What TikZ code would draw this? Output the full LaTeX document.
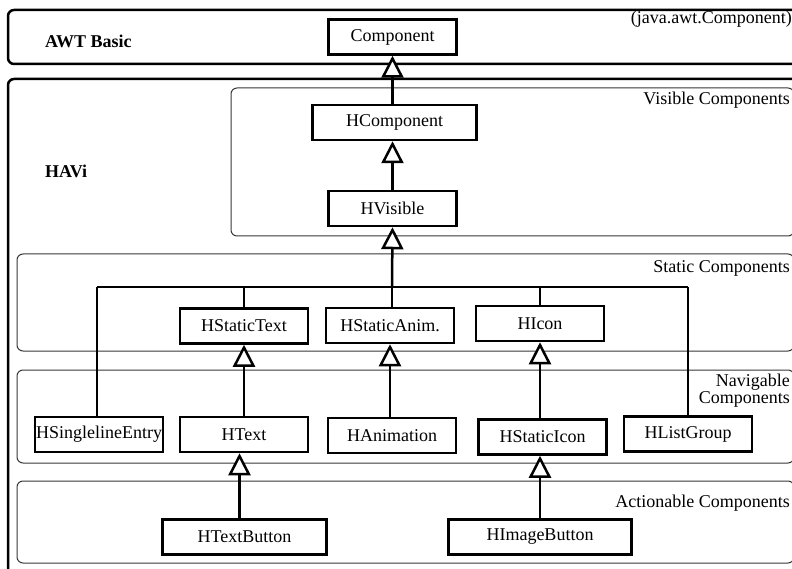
\documentclass[tikz,border=0pt]{standalone}
\usepackage{fontspec}
\setmainfont{Liberation Serif}
\usetikzlibrary{positioning, arrows.meta, calc}
\definecolor{RegionGrey}{RGB}{55, 55, 55}

\begin{document}
\begin{tikzpicture}[
    x=1pt, y=-1pt,
    % Global Styles
    cls/.style={
        rectangle,
        draw=black,
        line width=2.5pt,
        fill=white,
        align=center,
        inner xsep=1pt,
        minimum height=35pt,
        minimum width=128pt,
        font=\fontsize{18}{20}\selectfont
    },
    layer/.style={
        draw=RegionGrey,
        line width=1pt,
        rounded corners=6pt
    },
    package/.style={
        draw=black,
        line width=2.5pt,
        rounded corners=6pt
    },
    inherit/.style={
        -{Triangle[length=22pt, width=22pt, fill=white]},
        line width=2.5pt,
        draw=black
    },
    line/.style={
        line width=2.5pt,
        draw=black
    },
    layer_text/.style={
        anchor=east,
        align=right,
        inner sep=0pt,
        font=\fontsize{18}{14}\selectfont
    },
    package_text/.style={
        anchor=west,
        inner sep=0pt,
        font=\fontsize{18}{20}\selectfont\bfseries
    }
]
    \useasboundingbox (0,0) rectangle (792,569);
    \clip (0,0) rectangle (792,569);

    % --- Packages and Layers ---
    \draw[package] (8,10) rectangle (810,64);
    \draw[package] (8,79) rectangle (810,600);

    \draw[layer] (231,88) rectangle (794,236);
    \draw[layer] (17,254) rectangle (794,351);
    \draw[layer] (17,370) rectangle (794,463);
    \draw[layer] (17,481) rectangle (794,563);

    \node[package_text] (awt_label) at (45,41) {AWT Basic};
    \node[package_text] (havi_label) at (45,171) {HAVi};

    \node[layer_text] (awt_name) at (792,19) {(java.awt.Component)};
    \node[layer_text] (visible_label) at (790,100) {Visible Components};
    \node[layer_text] (static_label) at (790,268) {Static Components};
    \node[layer_text] (navigable_label) at (790,391) {Navigable\\Components};
    \node[layer_text] (actionable_label) at (790,503) {Actionable Components};

    % --- Placement of Nodes ---

    % Main column
    \node[cls] (component) at (392.5,37) {Component};
    \node[cls, minimum width=164pt] (hcomponent) at (394.5,122.5) {HComponent};
    \node[cls] (hvisible) at (392.5,208.5) {HVisible};

    % Static row
    \node[cls] (hstatictext) at (244,326) {HStaticText};
    \node[cls] (hstaticanim) at (390,325.5) {HStaticAnim.};
    \node[cls] (hicon) at (540,323.5) {HIcon};

    % Navigable row
    \node[cls] (hsingleline) at (99,434.5) {HSinglelineEntry};
    \node[cls] (htext) at (244,434.5) {HText};
    \node[cls] (hanimation) at (392,435.5) {HAnimation};
    \node[cls] (hstaticicon) at (542.5,437) {HStaticIcon};
    \node[cls] (hlistgroup) at (688,434) {HListGroup};

    % Actionable row
    \node[cls, minimum width=164pt] (htextbutton) at (244.5,537) {HTextButton};
    \node[cls, minimum width=183pt] (himagebutton) at (540,537) {HImageButton};

    % Bus under HVisible
    \coordinate (bus) at (392,287);
    \coordinate (bus_left) at (97,287);
    \coordinate (bus_right) at (688,287);

    % --- Connections ---

    % 1. Visible column
    \draw[inherit] (hcomponent.north -| component.south) -- (component.south);
    \draw[inherit] (hvisible.north) -- (hvisible.north |- hcomponent.south);

    % 2. Bus up to HVisible and down to its subclasses
    \draw[inherit] (bus) -- (hvisible.south);
    \draw[line] (bus_left) -- (bus_right);
    \draw[line] (bus_left) -- (bus_left |- hsingleline.north);
    \draw[line] (bus) -- (bus |- hstaticanim.north);
    \draw[line] (hstatictext.north) -- (hstatictext.north |- bus);
    \draw[line] (hicon.north) -- (hicon.north |- bus);
    \draw[line] (bus_right) -- (bus_right |- hlistgroup.north);

    % 3. Navigable to Static
    \draw[inherit] (htext.north) -- (htext.north |- hstatictext.south);
    \draw[inherit] (hanimation.north -| hstaticanim.south) -- (hstaticanim.south);
    \draw[inherit] (hstaticicon.north -| hicon.south) -- (hicon.south);

    % 4. Actionable to Navigable
    \draw[inherit] ([xshift=-5pt]htextbutton.north) -- ([xshift=-5pt]htextbutton.north |- htext.south);
    \draw[inherit] (himagebutton.north) -- (himagebutton.north |- hstaticicon.south);

\end{tikzpicture}
\end{document}
